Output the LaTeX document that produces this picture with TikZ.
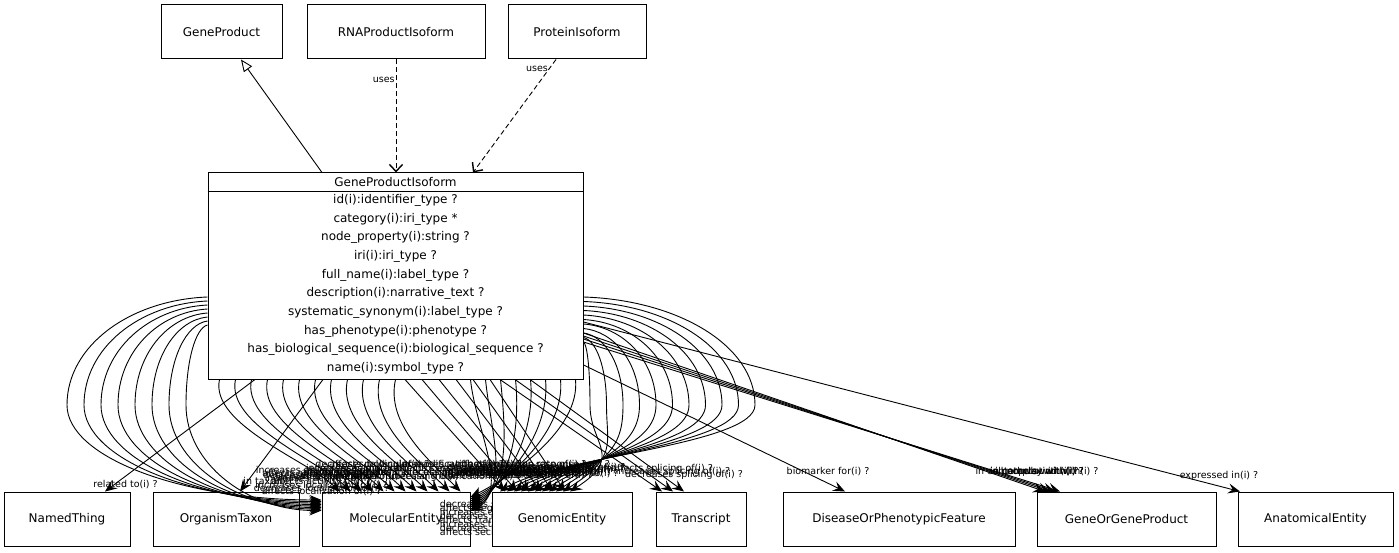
\documentclass[tikz,border=0pt]{standalone}
\usepackage{fontspec}
\setmainfont{DejaVu Sans}
\usetikzlibrary{arrows.meta}
\pgfdeclarelayer{front}
\pgfsetlayers{main,front}
\tikzset{
  cls/.style={draw, fill=white, line width=1pt, minimum height=54, inner sep=0pt,
    font=\fontsize{12}{14}\selectfont},
  slot/.style={font=\fontsize{12}{14}\selectfont, inner sep=0pt},
  role/.style={font=\fontsize{9.5}{11}\selectfont, inner sep=1pt},
  assoc/.style={line width=0.9pt, -{Stealth[length=12pt, width=10pt, inset=4.5pt]}},
  uses/.style={line width=0.9pt, dash pattern=on 5pt off 3pt,
    -{Straight Barb[length=7pt, width=13pt, line width=1.4pt]}},
  isa/.style={line width=0.9pt, -{Triangle[open, length=12pt, width=10pt]}}
}
\begin{document}
\begin{tikzpicture}[x=1pt, y=-1pt]
  \useasboundingbox (0,0) rectangle (1399,553);
  \draw
    (221.5,32) node[cls, minimum width=121] (gp) {GeneProduct}
    (396,32) node[cls, minimum width=178] (rna) {RNAProductIsoform}
    (577,32) node[cls, minimum width=138] (prot) {ProteinIsoform}
    (67,519) node[cls, minimum width=126] (named) {NamedThing}
    (226,519) node[cls, minimum width=146] (taxon) {OrganismTaxon}
    (396,519) node[cls, minimum width=148] (mol) {MolecularEntity}
    (701,519) node[cls, minimum width=90] (tra) {Transcript}
    (899,519) node[cls, minimum width=232] (dis) {DiseaseOrPhenotypicFeature}
    (1126.5,519) node[cls, minimum width=179] (gogp) {GeneOrGeneProduct}
    (1315.5,519) node[cls, minimum width=155] (anat) {AnatomicalEntity};
  \begin{pgfonlayer}{front}
    \node[cls, minimum width=140] (gen) at (562,519) {GenomicEntity};
  \end{pgfonlayer}
  % the isoform class with its slots
  \node[cls, minimum width=375, minimum height=206] (gpi) at (395.5,276) {};
  \draw[line width=1pt] ([yshift=-19]gpi.north west) -- ([yshift=-19]gpi.north east);
  \node[slot] (gpiname) at (395.5,182.5) {GeneProductIsoform};
  \foreach \s [count=\k] in {id(i):identifier\_type ?, category(i):iri\_type *,
      node\_property(i):string ?, iri(i):iri\_type ?, full\_name(i):label\_type ?,
      description(i):narrative\_text ?, systematic\_synonym(i):label\_type ?,
      has\_phenotype(i):phenotype ?,
      has\_biological\_sequence(i):biological\_sequence ?, name(i):symbol\_type ?}
    \node[slot] (slot\k) at (395.5,{181.5+18.7*\k}) {\s};
  \begin{scope}
    \draw[isa] ([xshift=-73.5]gpi.north) -- ([xshift=19.5]gp.south);
    \draw[uses] (rna.south) -- ([xshift=0.5]gpi.north) node[role, pos=0.18, left] {uses};
    \draw[uses] ([xshift=-21]prot.south) -- ([xshift=77.5]gpi.north) node[role, pos=0.08, left] {uses};
  \end{scope}
  % left loops
  \foreach \lab [count=\i from 0] in {affects localization of, decreases localization of,
      increases localization of, affects activity of, increases activity of,
      decreases activity of, affects abundance of, increases abundance of}{
    \pgfmathsetmacro\ys{21+4*\i}
    \pgfmathsetmacro\xm{67+17*\i}
    \pgfmathsetmacro\ka{0.55*(208-\xm)}
    \pgfmathsetmacro\kb{0.55*(129-\ys)}
    \pgfmathsetmacro\kc{0.55*(95+1.5*\i)}
    \pgfmathsetmacro\kd{0.55*(322-\xm)}
    \draw[assoc] ([yshift=-\ys]gpi.west) .. controls +(-\ka,3) and +(0,-\kb) .. (\xm,405)
      .. controls +(0,\kc) and +(-\kd,0) .. ([yshift=19-1.5*\i]mol.west)
      node[role, pos=1, anchor=south, yshift=3+4.5*\i] {\lab(i) ?};
  }
  \foreach \lab [count=\j from 0] in {decreases abundance of, affects folding of,
      increases folding of, decreases folding of, affects metabolic processing of,
      increases metabolic processing of, decreases metabolic processing of,
      affects molecular modification of, increases molecular modification of,
      decreases molecular modification of, affects synthesis of, increases synthesis of}
    \draw[assoc] ([xshift=12+16*\j]gpi.south west) .. controls +(-10,45) and +(-30,-30)
      .. ([xshift=18+11*\j]mol.north west)
      node[role, pos=1, anchor=south, yshift={9+4*mod(\j,4)}] {\lab(i) ?};
  % right loops
  \foreach \lab [count=\i from 0] in {affects expression of, increases expression of,
      decreases expression of, affects mutation rate of, increases mutation rate of,
      decreases mutation rate of, affects response to, increases response to,
      decreases response to, affects uptake of, increases uptake of}{
    \pgfmathsetmacro\ys{21+4.5*\i}
    \pgfmathsetmacro\xm{755-16.5*\i}
    \pgfmathsetmacro\ka{0.55*(\xm-583)}
    \pgfmathsetmacro\kb{0.55*(129-\ys)}
    \draw[assoc] ([yshift=-\ys]gpi.east) .. controls +(\ka,3) and +(0,-\kb) .. (\xm,405)
      .. controls +(0,40) and +(55,-35) .. ([xshift=-62+7*\i]gen.north)
      node[role, pos=1, anchor=south, yshift={12+3*mod(\i,4)}] {\lab(i) ?};
  }
  \foreach \lab [count=\j from 0] in {decreases synthesis of, affects degradation of,
      increases degradation of, decreases degradation of, affects transport of,
      increases transport of, decreases transport of, affects secretion of}
    \draw[assoc] ([xshift=-8-15*\j]gpi.south east) .. controls +(5,50) and +(40,-20)
      .. ([yshift=22-2*\j]mol.east)
      node[role, pos=1, anchor=north west, xshift=-32, yshift=-2-2*\j] {\lab(i) ?};
  \foreach \lab [count=\k from 0] in {decreases uptake of, increases secretion of,
      decreases secretion of, affects stability of, increases stability of,
      decreases stability of}
    \draw[assoc] ([xshift=9.5+17*\k]gpi.south) -- ([xshift=-57+12*\k]gen.north)
      node[role, pos=1, anchor=south, yshift={10+3*mod(\k,3)}] {\lab(i) ?};
  \foreach \lab [count=\k from 0] in {affects splicing of, increases splicing of,
      decreases splicing of}
    \draw[assoc] ([xshift=104.5+15*\k]gpi.south) -- ([xshift=-39+11*\k]tra.north)
      node[role, pos=1, anchor=south, yshift=17-3*\k] {\lab(i) ?};
  % single associations
  \draw[assoc] ([xshift=-140.5]gpi.south) -- ([xshift=38]named.north)
    node[role, pos=1, anchor=south west, xshift=-13, yshift=1] {related to(i) ?};
  \draw[assoc] ([xshift=-72.5]gpi.south) -- ([xshift=14]taxon.north)
    node[role, pos=1, anchor=south west, xshift=2, yshift=4] {in taxon(i) ?};
  \draw[assoc] ([yshift=-89]gpi.east) -- ([xshift=-54]dis.north)
    node[role, pos=1, anchor=south, xshift=-17, yshift=14] {biomarker for(i) ?};
  \foreach \lab [count=\k from 0] in {interacts with, in pathway with, in complex with,
      in cell population with}
    \draw[assoc] ([yshift={-57-3*\k}]gpi.east) -- ([xshift={-81.5+5*\k}]gogp.north)
      node[role, pos=1, anchor=south, xshift={-8-5*\k}, yshift=14] {\lab(i) ?};
  \draw[assoc] ([yshift=-46]gpi.east) -- ([xshift=-75.5]anat.north)
    node[role, pos=1, anchor=south, xshift=-21, yshift=10] {expressed in(i) ?};
\end{tikzpicture}
\end{document}
